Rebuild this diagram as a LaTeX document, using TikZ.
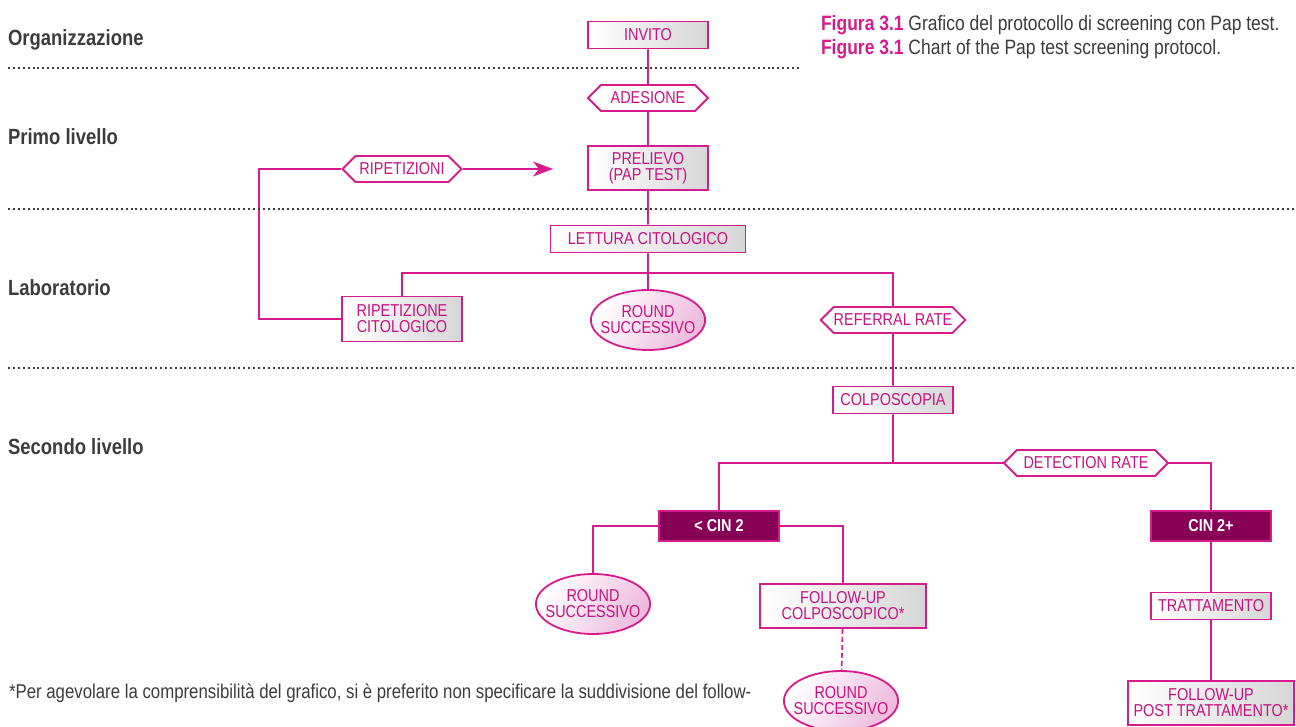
\documentclass[tikz,border=0pt]{standalone}
\usepackage{fontspec}
\setmainfont{Liberation Sans}[FakeStretch=0.84]
\usetikzlibrary{arrows.meta}
\usetikzlibrary{positioning, backgrounds, shapes.geometric, shapes.symbols}
\usepackage{xcolor}
\definecolor{mymagenta}{RGB}{214,28,140}
\definecolor{mytext}{RGB}{200,18,128}
\definecolor{mypurple}{RGB}{136,0,86}
\definecolor{mypink}{RGB}{238,186,220}
\definecolor{mygray}{RGB}{60,60,60}
\newcommand{\boxfont}{\fontsize{8.6}{8}\selectfont}
\tikzset{
  >=Stealth,
  flow box/.style={draw=mymagenta,line width=0.9pt,left color=white,right color=gray!32,
    text=mytext,font=\boxfont,align=center,inner sep=1pt,minimum width=60pt,minimum height=13.5pt},
  flow hex/.style={signal,signal to=west and east,draw=mymagenta,line width=0.9pt,fill=white,
    text=mytext,font=\boxfont,inner xsep=0pt,inner ysep=1pt,minimum height=13pt},
  flow ellipse/.style={ellipse,draw=mymagenta,line width=0.9pt,left color=white,right color=mypink,
    shading angle=60,text=mytext,font=\boxfont,align=center,inner xsep=-3.5pt,inner ysep=0pt,
    minimum width=55pt,minimum height=30pt},
  cin box/.style={draw=mymagenta,line width=0.9pt,fill=mypurple,text=white,
    font=\boxfont\bfseries,minimum width=60pt,minimum height=15pt},
  connect/.style={draw=mymagenta,line width=0.8pt},
  level line/.style={draw=mygray,line width=1pt,dash pattern=on 1pt off 1.45pt},
  layer label/.style={anchor=west,text=mygray,font=\fontsize{11}{13}\selectfont\bfseries}
}

\begin{document}
\begin{tikzpicture}[x=0.5pt,y=-0.5pt]
  \useasboundingbox (0,0) rectangle (1296,727);

  % --- LEVELS ---
  \node[layer label] (lv-org) at (1,40) {Organizzazione};
  \node[layer label] (lv-primo) at (1,137) {Primo livello};
  \node[layer label] (lv-lab) at (1,288) {Laboratorio};
  \node[layer label] (lv-sec) at (1,447) {Secondo livello};
  \draw[level line] (8,68) -- (800,68);
  \draw[level line] (8,209) -- (1296,209);
  \draw[level line] (8,368) -- (1296,368);

  % --- CAPTION ---
  \node[anchor=north west,align=left,text=mygray,font=\fontsize{10.4}{12}\selectfont] (caption) at (814,8)
    {\textcolor{mymagenta}{\bfseries Figura 3.1} Grafico del protocollo di screening con Pap test.\\
     \textcolor{mymagenta}{\bfseries Figure 3.1} Chart of the Pap test screening protocol.};

  % --- ORGANIZZAZIONE / PRIMO LIVELLO ---
  \node[flow box] (invito) at (648,35) {INVITO};
  \node[flow hex, minimum width=60pt] (adesione) at (648,98) {ADESIONE};
  \node[flow box, minimum height=22pt] (prelievo) at (648,168) {PRELIEVO\\(PAP TEST)};
  \node[flow hex, minimum width=59.5pt] (ripet) at (402,169) {RIPETIZIONI};
  \coordinate (arrow-end) at (553,169);
  \coordinate (loop) at (259,245);

  % --- LABORATORIO ---
  \node[flow box, minimum width=97.5pt] (lettura) at (648,239) {LETTURA CITOLOGICO};
  \coordinate (lab-split) at (648,273);
  \node[flow box, minimum height=22.5pt] (ripcit) at (402,319) {RIPETIZIONE\\CITOLOGICO};
  \node[flow ellipse] (round1) at (648,320) {ROUND\\SUCCESSIVO};
  \node[flow hex, minimum width=67.5pt] (referral) at (893,320) {REFERRAL RATE};

  % --- SECONDO LIVELLO ---
  \node[flow box] (colpo) at (893,400) {COLPOSCOPIA};
  \coordinate (sec-split) at (893,463);
  \node[flow hex, minimum width=82pt] (detection) at (1086,463) {DETECTION RATE};
  \node[cin box] (cin2) at (719,526) {< CIN 2};
  \node[cin box] (cinplus) at (1211,526) {CIN 2+};
  \node[flow ellipse] (round2) at (593,604) {ROUND\\SUCCESSIVO};
  \node[flow box, minimum width=83pt, minimum height=22pt] (fucolpo) at (843,606) {FOLLOW-UP\\COLPOSCOPICO*};
  \node[flow ellipse] (round3) at (841,701) {ROUND\\SUCCESSIVO};
  \node[flow box] (tratt) at (1211,606) {TRATTAMENTO};
  \node[flow box, minimum width=83pt, minimum height=22pt] (fupost) at (1211,703) {FOLLOW-UP\\POST TRATTAMENTO*};

  % --- CONNECTIONS ---
  \begin{pgfonlayer}{background}
    \draw[connect] (invito) -- (adesione) -- (prelievo) -- (lettura) -- (round1);
    \draw[connect, -{Stealth[length=10pt,width=7.5pt,inset=3pt]}] (ripet) -- (arrow-end);
    \draw[connect] (ripet) -| (loop) |- (ripcit);
    \draw[connect] (ripcit) |- (lab-split) -| (referral);
    \draw[connect] (referral) -- (colpo) -- (sec-split);
    \draw[connect] (cin2) |- (sec-split) -| (cinplus);
    \draw[connect] (cin2) -| (round2);
    \draw[connect] (cin2) -| (fucolpo);
    \draw[connect, dashed, dash pattern=on 2.5pt off 1.5pt] (fucolpo) -- (round3);
    \draw[connect] (cinplus) -- (tratt) -- (fupost);
  \end{pgfonlayer}

  % --- FOOTNOTE ---
  \node[anchor=west,text=mygray,font=\fontsize{10}{12}\selectfont] (footnote) at (2,693)
    {*Per agevolare la comprensibilità del grafico, si è preferito non specificare la suddivisione del follow-};
\end{tikzpicture}
\end{document}
